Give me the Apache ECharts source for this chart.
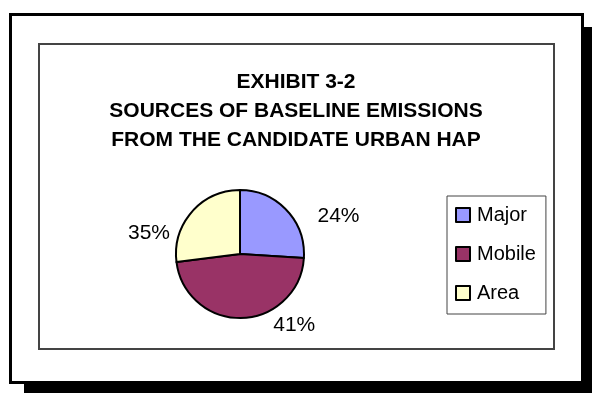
<!DOCTYPE html>
<html>
<head>
<meta charset="utf-8">
<script src="https://cdn.jsdelivr.net/npm/echarts@6/dist/echarts.min.js"></script>
<style>
  html, body { margin: 0; padding: 0; background: #fff; }
  #chart { width: 592px; height: 393px; }
</style>
</head>
<body>
<div id="chart"></div>
<script>
// ---- data ----
var categories = ['Major', 'Mobile', 'Area'];
// slice sizes as drawn in the reference pie (percent of circle)
var sliceValues = [26, 47, 27];
// percentage labels printed on the reference
var labelTexts = ['24%', '41%', '35%'];
var titleLines = ['EXHIBIT 3-2', 'SOURCES OF BASELINE EMISSIONS', 'FROM THE CANDIDATE URBAN HAP'];

// ---- styling ----
var colors = ['#9999FF', '#993366', '#FFFFCC'];
var labelOffsets = [[12, 11], [18, -1], [-3, 27]];
var FONT = '"Liberation Sans", Arial, sans-serif';

var chart = echarts.init(document.getElementById('chart'), null, { renderer: 'canvas' });

var pieData = categories.map(function (c, i) {
  return {
    name: c,
    value: sliceValues[i],
    itemStyle: { color: colors[i] },
    label: { offset: labelOffsets[i] }
  };
});

var option = {
  backgroundColor: '#ffffff',
  animation: false,
  graphic: [
    { type: 'rect', z: 0, shape: { x: 24, y: 27, width: 600, height: 400 }, style: { fill: '#000' } },
    { type: 'rect', z: 1, shape: { x: 10.5, y: 14.5, width: 572, height: 368 }, style: { fill: '#fff', stroke: '#000', lineWidth: 3 } },
    { type: 'rect', z: 1, shape: { x: 39, y: 44, width: 515, height: 305 }, style: { fill: 'none', stroke: '#444', lineWidth: 2 } }
  ],
  title: {
    text: titleLines.join('\n'),
    left: 'center',
    top: 63,
    textStyle: { fontFamily: FONT, fontSize: 21, fontWeight: 'bold', color: '#000', lineHeight: 29 }
  },
  legend: {
    orient: 'vertical',
    left: 447,
    top: 196,
    data: categories,
    icon: 'rect',
    itemWidth: 14,
    itemHeight: 14,
    itemGap: 19,
    padding: [9, 10, 11, 8],
    borderColor: '#444',
    borderWidth: 1,
    textStyle: { fontFamily: FONT, fontSize: 20, color: '#000', lineHeight: 20, padding: [0, 0, 0, 2] }
  },
  series: [{
    type: 'pie',
    center: [240, 254],
    radius: 64,
    startAngle: 90,
    clockwise: true,
    avoidLabelOverlap: false,
    itemStyle: { borderColor: '#000', borderWidth: 2 },
    emphasis: { disabled: true },
    label: {
      show: true,
      position: 'outside',
      fontFamily: FONT,
      fontSize: 21,
      color: '#000',
      formatter: function (p) { return labelTexts[p.dataIndex]; }
    },
    labelLine: { show: false, length: 8, length2: 8 },
    data: pieData
  }]
};
chart.setOption(option);
</script>
</body>
</html>
